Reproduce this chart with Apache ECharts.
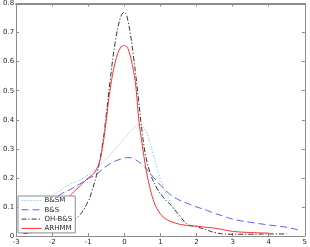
<!DOCTYPE html>
<html><head><meta charset="utf-8">
<script src="https://cdn.jsdelivr.net/npm/echarts@6/dist/echarts.min.js"></script>
<style>html,body{margin:0;padding:0;background:#fff}#c{width:310px;height:247px}</style>
</head><body><div id="c"></div>
<script>
var xTicks = [-3,-2,-1,0,1,2,3,4,5];
var yTicks = [0,0.1,0.2,0.3,0.4,0.5,0.6,0.7,0.8];
var seriesNames = ["B&SM","B&S","OH-B&S","ARHMM"];

var bsmX = [-2.8,-2.5,-2.0,-1.75,-1.5,-1.25,-1.0,-0.75,-0.5,-0.25,0,0.15,0.3,0.4,0.5,0.6,0.7,0.8,0.9,1.0,1.15,1.3,1.5,1.65];
var bsmY = [0.055,0.085,0.135,0.16,0.178,0.192,0.21,0.235,0.265,0.3,0.335,0.358,0.376,0.382,0.378,0.36,0.325,0.28,0.235,0.195,0.148,0.11,0.065,0.045];

var bsX = [-2.9,-2.5,-2.0,-1.75,-1.5,-1.25,-1.0,-0.75,-0.5,-0.25,0,0.1,0.25,0.5,0.75,1.0,1.25,1.5,1.75,2.0,2.25,2.5,2.75,3.0,3.5,4.0,4.5,4.85];
var bsY = [0.065,0.09,0.125,0.145,0.16,0.178,0.197,0.215,0.24,0.258,0.268,0.27,0.266,0.245,0.21,0.175,0.145,0.125,0.112,0.1,0.09,0.078,0.068,0.058,0.047,0.038,0.03,0.02];

var ohX = [-2.8,-2.5,-2.0,-1.75,-1.5,-1.25,-1.0,-0.9,-0.75,-0.6,-0.5,-0.4,-0.25,-0.1,0,0.1,0.25,0.4,0.5,0.6,0.75,0.9,1.1,1.3,1.5,1.75,2.0,2.25,2.5,2.75,3.0,3.5,4.0,4.5];
var ohY = [0.008,0.012,0.02,0.03,0.048,0.07,0.12,0.155,0.22,0.32,0.42,0.53,0.67,0.755,0.77,0.74,0.62,0.46,0.35,0.27,0.205,0.165,0.13,0.105,0.075,0.04,0.032,0.022,0.012,0.007,0.006,0.006,0.007,0.007];

var arX = [-2.8,-2.5,-2.0,-1.75,-1.5,-1.25,-1.0,-0.85,-0.7,-0.6,-0.5,-0.4,-0.25,-0.1,0,0.1,0.25,0.33,0.4,0.5,0.6,0.7,0.8,0.9,1.1,1.4,1.75,2.0,2.25,2.5,3.0,3.5,4.0];
var arY = [0.012,0.03,0.075,0.11,0.14,0.17,0.2,0.215,0.25,0.31,0.4,0.5,0.6,0.65,0.655,0.645,0.57,0.5,0.4,0.31,0.23,0.17,0.125,0.095,0.063,0.045,0.036,0.034,0.03,0.027,0.016,0.012,0.01];

function pairs(xs, ys){ return xs.map(function(x,i){ return [x, ys[i]]; }); }

var axisCol = '#8c8c8c';
var lblStyle = {fontSize:7, color:'#262626', fontFamily:'DejaVu Sans'};
function xa(pos, showLbl){
  return {type:'value', position:pos, min:-3, max:5, interval:1,
    axisLine:{show:true, onZero:false, lineStyle:{color:axisCol, width: pos==='top'?2:1}},
    axisTick:{show:true, inside:true, length:3, lineStyle:{color:axisCol}},
    axisLabel:Object.assign({show:showLbl, margin:3}, lblStyle),
    splitLine:{show:false}};
}
function ya(pos, showLbl){
  return {type:'value', position:pos, min:0, max:0.8, interval:0.1,
    axisLine:{show:true, onZero:false, lineStyle:{color:axisCol}},
    axisTick:{show:true, inside:true, length:3, lineStyle:{color:axisCol}},
    axisLabel:Object.assign({show:showLbl, margin:2, formatter:function(v){return String(Math.round(v*10)/10);}}, lblStyle),
    splitLine:{show:false}};
}
var chart = echarts.init(document.getElementById('c'), null, {renderer:'canvas'});
chart.setOption({
  animation:false,
  backgroundColor:'#fff',
  grid:{left:13, right:3, top:3, bottom:11, containLabel:false},
  xAxis:[xa('bottom', true), xa('top', false)],
  yAxis:[ya('left', true), ya('right', false)],
  legend:{
    left:18, top:196, orient:'vertical',
    data:seriesNames,
    itemWidth:20, itemHeight:6, itemGap:2.3, padding:[1,3,1,3],
    backgroundColor:'#fff', borderColor:'#8c8c8c', borderWidth:1,
    itemStyle:{opacity:0},
    lineStyle:{width:1},
    textStyle:{fontSize:7, color:'#262626', fontFamily:'DejaVu Sans', padding:[0,0,0,-2]}
  },
  series:[
    {name:seriesNames[0], type:'line', data:pairs(bsmX,bsmY), smooth:0.5, symbol:'none',
     lineStyle:{color:'#7cc0ec', width:1, type:[1.2,1.8]}, itemStyle:{color:'#7cc0ec'}},
    {name:seriesNames[1], type:'line', data:pairs(bsX,bsY), smooth:0.4, symbol:'none',
     lineStyle:{color:'#5a5aff', width:1, type:[7,4]}, itemStyle:{color:'#5a5aff'}},
    {name:seriesNames[2], type:'line', data:pairs(ohX,ohY), smooth:0.4, symbol:'none',
     lineStyle:{color:'#333333', width:1, type:[5,2,1.2,2]}, itemStyle:{color:'#333333'}},
    {name:seriesNames[3], type:'line', data:pairs(arX,arY), smooth:0.4, symbol:'none',
     lineStyle:{color:'#ff3030', width:1}, itemStyle:{color:'#ff3030'}}
  ]
});
</script></body></html>
